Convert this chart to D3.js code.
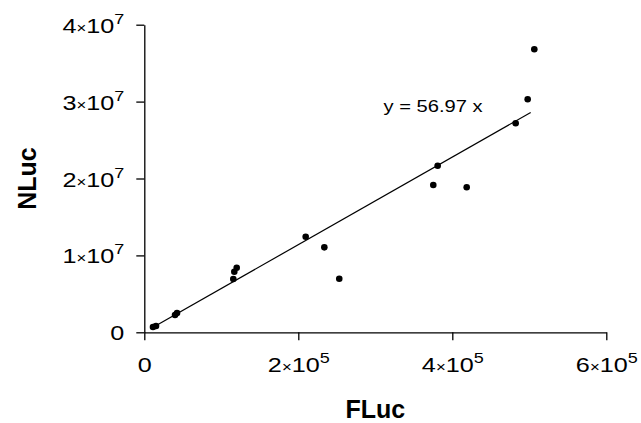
<!DOCTYPE html>
<html>
<head>
<meta charset="utf-8">
<script src="https://cdn.jsdelivr.net/npm/d3@7"></script>
<style>
    body { margin: 0; background: #fff; }
    svg { display: block; font-family: Arial, "Liberation Sans", sans-serif; }
</style>
</head>
<body>
<svg id="chart" width="641" height="423"></svg>
<script>
// FLuc / NLuc readings
var fluc = [11300, 15200, 39900, 42500, 115600, 116900, 120000, 209600,
    233800, 253200, 375300, 381000, 418700, 482300, 497900, 506500];
var nluc = [0.69e6, 0.82e6, 2.25e6, 2.51e6, 6.93e6, 7.88e6, 8.40e6, 12.43e6,
    11.05e6, 6.97e6, 19.15e6, 21.66e6, 18.86e6, 27.18e6, 30.30e6, 36.80e6];

// regression through origin
var fitSlope = 56.97;
var fitRange = [10900, 501800];
var fitLabel = 'y = 56.97 x';

var xTicks = [0, 2e5, 4e5, 6e5];
var yTicks = [0, 1e7, 2e7, 3e7, 4e7];

var W = 641, H = 423;
var margin = { left: 144.3, right: 34.7, top: 24.7, bottom: 90.7 };

var svg = d3.select('#chart');

var x = d3.scaleLinear().domain([0, 6e5]).range([margin.left, W - margin.right]);
var y = d3.scaleLinear().domain([0, 4e7]).range([H - margin.bottom, margin.top]);

// label like 4×10^7
function sciLabel(sel, v) {
    sel.text(null);
    if (v === 0) {
        sel.append('tspan').text('0');
        return;
    }
    var exp = Math.floor(Math.log10(v));
    var mant = Math.round(v / Math.pow(10, exp));
    sel.append('tspan').text(mant);
    sel.append('tspan').attr('font-size', 14).text('\u00d7');
    sel.append('tspan').text('10');
    sel.append('tspan').attr('font-size', 15).attr('dy', -9).text(exp);
}

var xAxis = svg.append('g')
    .attr('transform', `translate(0,${y(0)})`)
    .call(d3.axisBottom(x).tickValues(xTicks).tickSize(8).tickSizeOuter(0));

var yAxis = svg.append('g')
    .attr('transform', `translate(${x(0)},0)`)
    .call(d3.axisLeft(y).tickValues(yTicks).tickSize(8).tickSizeOuter(0));

[xAxis, yAxis].forEach(function (g) {
    g.selectAll('path, line').attr('stroke', '#000').attr('stroke-width', 1.3);
    g.selectAll('text')
        .attr('font-size', 21)
        .attr('font-family', 'Arial, "Liberation Sans", sans-serif')
        .attr('fill', '#000')
        .attr('x', 0)
        .attr('y', 0)
        .each(function (d) { sciLabel(d3.select(this), d); });
});

// labels in the original are a bit wider than Arial
xAxis.selectAll('text')
    .attr('dy', null)
    .attr('transform', 'translate(0,40) scale(1.2,1)');
yAxis.selectAll('text')
    .attr('dy', null)
    .attr('transform', 'translate(-20,7.5) scale(1.2,1)');

// fit line
svg.append('line')
    .attr('x1', x(fitRange[0]))
    .attr('y1', y(fitRange[0] * fitSlope))
    .attr('x2', x(fitRange[1]))
    .attr('y2', y(fitRange[1] * fitSlope))
    .attr('stroke', '#000')
    .attr('stroke-width', 1.2);

// points
svg.append('g')
    .selectAll('circle')
    .data(d3.range(fluc.length))
    .join('circle')
    .attr('cx', function (i) { return x(fluc[i]); })
    .attr('cy', function (i) { return y(nluc[i]); })
    .attr('r', 3.3)
    .attr('fill', '#000');

svg.append('text')
    .attr('x', 383.5)
    .attr('y', 112.3)
    .attr('font-size', 16)
    .attr('textLength', 99)
    .attr('lengthAdjust', 'spacingAndGlyphs')
    .text(fitLabel);

// axis titles
svg.append('text')
    .attr('x', (x(0) + x(6e5)) / 2)
    .attr('y', 418)
    .attr('text-anchor', 'middle')
    .attr('font-size', 25)
    .attr('font-weight', 'bold')
    .text('FLuc');

svg.append('text')
    .attr('transform', `translate(36,${(y(0) + y(4e7)) / 2}) rotate(-90)`)
    .attr('text-anchor', 'middle')
    .attr('font-size', 25)
    .attr('font-weight', 'bold')
    .text('NLuc');
</script>
</body>
</html>
